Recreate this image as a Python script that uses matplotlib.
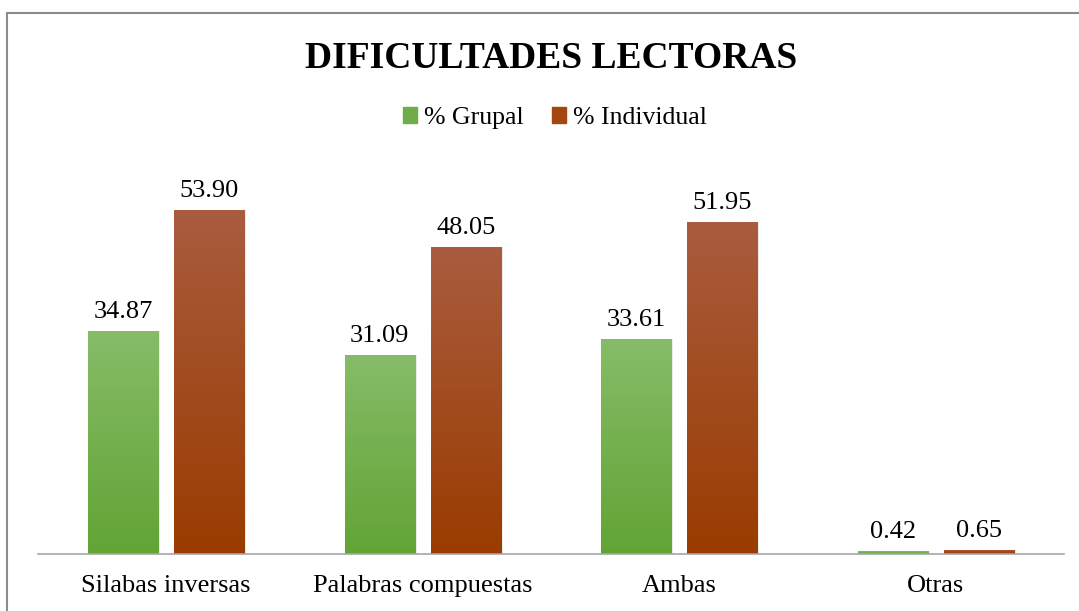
import numpy as np
import matplotlib
matplotlib.use("Agg")
import matplotlib.pyplot as plt
from matplotlib.patches import Rectangle
from matplotlib.colors import LinearSegmentedColormap

categorias = ["Silabas inversas", "Palabras compuestas", "Ambas", "Otras"]
grupal = [34.87, 31.09, 33.61, 0.42]
individual = [53.90, 48.05, 51.95, 0.65]
series = ["% Grupal", "% Individual"]

plt.rcParams['font.family'] = ['Liberation Serif', 'DejaVu Serif']

fig = plt.figure(figsize=(10.79, 6.11), dpi=100)
ax = fig.add_axes([0.0352, 0.0933, 0.9508, 0.627])

x = np.arange(len(categorias))
w = 0.273
gap = 0.062
off = (w + gap) / 2

verde = LinearSegmentedColormap.from_list("verde", ["#62a434", "#86bc68"])
cafe = LinearSegmentedColormap.from_list("cafe", ["#9a3c00", "#a95c3e"])

b1 = ax.bar(x - off, grupal, w, color="#70ad47", zorder=2)
b2 = ax.bar(x + off, individual, w, color="#a3470f", zorder=2)

grad = np.linspace(0, 1, 256).reshape(-1, 1)
for bars, cm in ((b1, verde), (b2, cafe)):
    for b in bars:
        x0, y0 = b.get_x(), b.get_y()
        bw, bh = b.get_width(), b.get_height()
        # soft shadow
        ax.add_patch(Rectangle((x0 + 0.008, y0), bw, bh, color="#000000",
                               alpha=0.08, lw=0, zorder=1))
        im = ax.imshow(grad, cmap=cm, aspect="auto", origin="lower",
                       extent=(x0, x0 + bw, y0, y0 + bh), zorder=2.5)
        im.set_clip_path(b)

for bars, vals in ((b1, grupal), (b2, individual)):
    for b, v in zip(bars, vals):
        ax.annotate(f"{v:.2f}", (b.get_x() + b.get_width() / 2, v),
                    xytext=(0, 6), textcoords="offset points",
                    ha="center", va="bottom", fontsize=19)

ax.set_xlim(-0.5, len(categorias) - 0.5)
ax.set_ylim(0, 60)
ax.set_xticks(x)
ax.set_xticklabels(categorias, fontsize=19)
ax.tick_params(axis="x", length=0, pad=15)
ax.set_yticks([])
for s in ["top", "right", "left"]:
    ax.spines[s].set_visible(False)
ax.spines["bottom"].set_color("#a6a6a6")
ax.spines["bottom"].set_linewidth(1.2)
ax.spines["bottom"].set_zorder(3)

fig.text(0.511, 0.905, "DIFICULTADES LECTORAS", ha="center", va="center",
         fontsize=27, fontweight="bold")

h1 = Rectangle((0, 0), 1, 1, color="#70ad47")
h2 = Rectangle((0, 0), 1, 1, color="#a3470f")
fig.legend([h1, h2], series, loc="center", bbox_to_anchor=(0.514, 0.807),
           ncol=2, frameon=False, fontsize=18.5, handlelength=0.55,
           handleheight=0.55, handletextpad=0.27, columnspacing=1.1)

fig.patches.append(Rectangle((7 / 1079, -0.01), 1.1, (611 - 13) / 611 + 0.01,
                             transform=fig.transFigure, fill=False,
                             edgecolor="#8c8c8c", lw=1.5))

fig.savefig("out.png", dpi=100)
